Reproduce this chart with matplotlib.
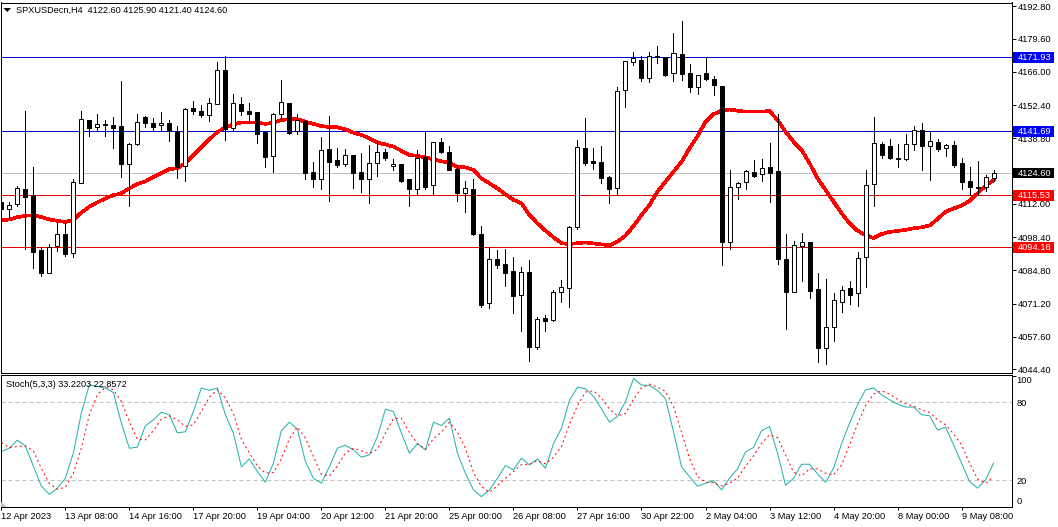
import numpy as np
import matplotlib
matplotlib.use('Agg')
import matplotlib.pyplot as plt
from matplotlib.patches import Polygon, Rectangle
from matplotlib.transforms import blended_transform_factory

plt.rcParams['font.family'] = ['Liberation Sans', 'DejaVu Sans']
plt.rcParams['font.size'] = 6.7

opens = [4112.9,4109.7,4111.8,4117.9,4115.5,4092.9,4083.8,4094.6,4099.5,4091.7,
         4120.4,4146.2,4143.6,4144.7,4144.2,4143.7,4128.4,4136.6,4147.5,4145.1,
         4144.1,4145.1,4141.6,4127.3,4151.2,4150.0,4148.2,4152.7,4166.6,4142.9,
         4152.8,4150.0,4149.6,4141.4,4131.4,4148.6,4153.2,4141.6,4145.9,4124.9,
         4122.0,4134.3,4129.8,4128.1,4131.8,4124.9,4122.0,4128.6,4133.1,4127.3,
         4128.3,4122.0,4117.9,4131.2,4119.6,4137.2,4133.1,4126.2,4116.5,4117.9,
         4099.6,4071.3,4089.3,4087.2,4084.4,4074.5,4084.0,4053.5,4065.1,4064.3,
         4075.8,4077.4,4102.6,4134.7,4129.4,4129.0,4123.0,4118.3,4158.4,4170.2,
         4170.7,4163.3,4172.5,4171.9,4165.4,4173.3,4165.4,4159.7,4165.4,4162.9,
         4160.2,4096.2,4119.0,4120.8,4124.9,4124.1,4126.9,4125.4,4089.3,4075.8,
         4094.9,4096.2,4077.0,4052.9,4061.7,4072.0,4077.4,4075.4,4090.1,4120.0,
         4136.5,4135.5,4130.7,4130.5,4136.3,4142.1,4135.5,4137.2,4134.7,4135.9,
         4128.6,4121.2,4118.7,4118.7,4122.6]
closes = [4109.7,4111.4,4118.3,4114.9,4092.4,4083.8,4094.2,4099.5,4091.6,4120.8,
          4146.6,4143.2,4144.5,4144.1,4143.2,4128.4,4136.3,4145.3,4145.2,4143.4,
          4144.9,4141.6,4127.1,4150.7,4150.1,4148.3,4153.1,4166.6,4142.7,4153.1,
          4150.1,4148.9,4140.7,4131.3,4148.6,4153.5,4141.1,4146.2,4124.8,4122.3,
          4133.9,4129.2,4128.0,4131.8,4124.8,4122.3,4128.6,4133.1,4130.9,4128.1,
          4121.3,4118.2,4130.6,4119.0,4137.2,4133.3,4126.0,4116.5,4118.3,4099.6,
          4070.7,4089.3,4087.1,4083.8,4074.4,4084.0,4053.5,4064.7,4064.2,4075.8,
          4077.8,4102.4,4135.1,4128.8,4128.8,4122.7,4118.2,4158.0,4170.3,4171.8,
          4163.6,4172.3,4172.1,4164.8,4173.6,4165.2,4159.9,4164.8,4162.9,4160.5,
          4096.5,4118.7,4120.4,4125.3,4123.5,4126.8,4124.8,4089.3,4076.0,4095.0,
          4096.2,4076.4,4052.9,4061.4,4072.5,4076.6,4074.8,4089.7,4119.6,4136.7,
          4132.1,4130.9,4130.5,4136.3,4142.1,4135.8,4137.6,4134.6,4135.9,4128.0,
          4121.1,4119.0,4118.3,4122.8,4124.6]
highs = [4114.9,4112.7,4119.3,4150.0,4127.1,4094.2,4095.6,4104.3,4104.0,4122.2,
         4150.0,4146.2,4148.7,4146.3,4147.5,4162.3,4136.7,4148.7,4148.1,4147.3,
         4149.6,4146.3,4143.8,4151.1,4154.1,4152.4,4155.3,4170.0,4172.5,4156.9,
         4155.7,4153.2,4149.6,4141.6,4149.0,4162.7,4153.2,4148.6,4146.3,4129.0,
         4139.3,4147.8,4134.7,4134.4,4131.8,4132.8,4136.1,4138.0,4134.4,4130.3,
         4128.3,4122.0,4134.0,4141.5,4137.2,4138.9,4135.6,4127.7,4121.3,4122.1,
         4102.9,4094.2,4093.2,4093.5,4090.2,4086.1,4088.9,4065.5,4066.5,4076.6,
         4080.8,4102.8,4138.1,4147.1,4134.8,4135.6,4123.4,4159.6,4170.3,4174.1,
         4172.5,4174.1,4176.6,4172.2,4181.9,4186.8,4169.2,4164.8,4172.2,4164.2,
         4160.2,4125.8,4120.8,4125.8,4129.9,4130.2,4136.9,4148.7,4099.6,4096.6,
         4099.9,4096.2,4083.6,4081.1,4075.4,4078.4,4080.4,4092.3,4125.8,4147.5,
         4137.3,4138.4,4136.5,4140.6,4143.8,4145.1,4141.6,4138.4,4136.3,4137.7,
         4130.6,4127.1,4129.5,4123.8,4125.9]
lows = [4108.1,4106.0,4111.2,4093.4,4085.9,4082.6,4083.5,4092.8,4090.8,4090.4,
        4120.4,4139.7,4141.8,4139.9,4135.0,4123.1,4111.2,4136.1,4143.6,4142.2,
        4141.8,4137.7,4122.7,4121.5,4148.7,4147.4,4146.0,4152.7,4138.2,4141.6,
        4148.3,4144.9,4137.0,4127.2,4125.1,4146.6,4140.4,4140.7,4122.3,4119.0,
        4118.2,4113.3,4127.2,4127.6,4118.6,4117.0,4112.5,4123.5,4130.1,4126.0,
        4121.1,4111.2,4116.2,4118.2,4116.2,4132.9,4125.7,4113.3,4108.8,4099.4,
        4069.9,4069.5,4085.9,4078.5,4067.4,4060.1,4047.8,4052.7,4060.1,4064.2,
        4072.0,4069.9,4101.8,4128.0,4126.4,4120.6,4112.5,4115.6,4151.8,4168.9,
        4162.4,4162.0,4169.7,4164.4,4162.4,4162.7,4157.9,4157.1,4162.7,4156.5,
        4087.0,4093.6,4114.0,4118.0,4123.1,4121.3,4112.9,4087.4,4060.9,4075.8,
        4080.4,4073.6,4047.4,4046.6,4056.0,4067.7,4071.0,4070.3,4078.1,4111.2,
        4130.9,4130.5,4127.2,4130.1,4134.2,4126.0,4121.9,4133.7,4131.7,4127.2,
        4118.2,4115.6,4115.6,4117.4,4121.4]

ma = [4105.2,4105.6,4106.5,4107.1,4107.3,4106.6,4105.6,4105.0,4104.6,4105.4,
      4108.4,4110.8,4112.6,4114.2,4115.5,4116.3,4118.3,4120.1,4121.2,4123.0,
      4124.6,4126.2,4126.5,4128.6,4132.0,4135.1,4138.4,4141.4,4143.2,4144.5,
      4145.3,4145.3,4145.2,4144.7,4145.2,4146.3,4146.6,4146.6,4145.6,4144.7,
      4143.8,4143.4,4143.3,4142.5,4141.1,4140.2,4138.8,4137.0,4136.3,4135.4,
      4133.7,4132.0,4131.6,4131.0,4130.2,4129.4,4128.7,4127.1,4126.9,4125.8,
      4122.4,4120.4,4118.3,4115.9,4113.6,4112.2,4107.4,4104.0,4101.0,4098.3,
      4095.9,4095.5,4095.9,4096.2,4095.8,4095.4,4095.0,4096.5,4099.0,4102.9,
      4107.4,4111.5,4117.0,4121.1,4125.1,4129.2,4134.7,4139.7,4145.6,4148.7,
      4150.1,4150.6,4150.1,4149.7,4149.7,4149.7,4150.0,4146.3,4141.5,4137.4,
      4134.0,4128.6,4122.4,4117.7,4112.9,4108.1,4104.0,4101.0,4099.2,4098.0,
      4099.6,4100.5,4100.9,4101.3,4102.0,4102.4,4103.1,4105.8,4108.7,4110.1,
      4111.2,4113.2,4116.3,4119.4,4121.7]

stoch_main = [42.0,44.6,50.8,46.4,31.0,15.6,9.2,13.9,21.5,40.8,
              71.5,93.3,92.0,90.8,87.4,63.9,44.6,45.4,61.8,66.4,
              72.3,70.3,56.4,57.2,72.8,90.8,89.0,90.8,70.3,56.2,
              30.3,36.4,26.7,18.5,33.1,58.0,64.6,59.2,34.4,21.5,
              17.7,30.5,44.6,46.9,43.3,37.7,39.5,53.6,74.6,72.8,
              56.2,40.8,48.0,43.3,64.6,62.0,67.7,40.8,25.4,12.6,
              7.4,12.6,21.5,31.3,28.0,36.9,31.8,36.4,29.2,48.0,
              60.0,81.3,91.5,90.3,84.4,74.9,64.6,69.0,80.5,98.2,
              93.1,92.8,89.0,82.6,57.4,30.5,22.8,15.4,17.7,19.7,
              12.6,21.5,28.7,41.8,45.1,58.0,61.3,40.8,16.2,21.5,
              32.3,32.3,24.9,18.5,29.2,48.0,63.9,78.0,89.5,90.8,
              85.6,81.8,78.5,76.2,76.2,70.3,69.5,58.5,60.8,47.2,
              33.1,19.0,13.9,20.3,33.22]
stoch_signal = [49.0,45.1,45.9,46.4,42.6,29.2,17.7,13.1,14.6,25.4,
                44.6,70.3,85.6,91.5,89.5,80.5,65.1,51.5,51.0,58.0,
                66.9,69.5,66.4,61.3,62.6,72.8,83.8,89.5,83.1,71.5,
                51.5,40.8,31.0,25.4,25.9,36.4,51.8,60.8,52.3,38.2,
                24.6,23.3,31.0,40.8,44.6,42.6,40.3,43.9,56.2,67.2,
                67.7,56.7,48.0,43.9,51.8,56.9,64.6,56.9,44.6,26.2,
                15.1,10.8,15.9,21.5,26.7,32.0,32.3,35.1,32.6,37.7,
                45.9,63.1,77.4,87.7,88.7,83.1,74.6,69.5,71.3,82.3,
                90.8,93.8,91.5,88.2,76.7,56.9,36.9,22.8,18.5,18.2,
                15.6,17.7,21.5,30.8,38.7,48.2,54.9,52.8,39.5,26.2,
                23.3,28.7,28.7,25.4,24.1,31.8,47.2,63.3,77.2,86.2,
                88.7,86.2,82.1,78.7,76.9,74.1,72.0,66.4,62.6,55.6,
                47.2,33.1,20.8,17.7,22.86]

price_ticks = [4192.80,4179.60,4166.00,4152.40,4138.80,4112.00,4098.40,4084.80,4071.20,4057.60,4044.40]
blue_levels = [4171.93,4141.69]
red_levels = [4115.53,4094.18]
last_price = 4124.60
stoch_ticks = [100,80,20,0]
stoch_levels = [80,20]
date_labels = ['12 Apr 2023','13 Apr 08:00','14 Apr 16:00','17 Apr 20:00','19 Apr 04:00','20 Apr 12:00',
               '21 Apr 20:00','25 Apr 00:00','26 Apr 08:00','27 Apr 16:00','30 Apr 22:00','2 May 04:00',
               '3 May 12:00','4 May 20:00','8 May 00:00','9 May 08:00']
date_pos = np.arange(len(date_labels))*8

W, H = 1058, 527
PX = 0.72   # one screen pixel in points at dpi 100

def axes_px(left, top, right, bottom):
    return [left/W, 1-bottom/H, (right-left)/W, (bottom-top)/H]

opens = np.array(opens); closes = np.array(closes)
highs = np.array(highs); lows = np.array(lows)
x = np.arange(len(opens))
up = closes >= opens

fig = plt.figure(figsize=(W/100, H/100), dpi=100, facecolor='white')
ax = fig.add_axes(axes_px(0.5, 2.5, 1012, 372.5))
ax2 = fig.add_axes(axes_px(0.5, 374.5, 1012, 506.7))

# levels, ma, then candles on top
for lv in blue_levels:
    ax.axhline(lv, color='#0000cd', lw=PX, antialiased=False, zorder=1)
for lv in red_levels:
    ax.axhline(lv, color='#e60000', lw=PX, antialiased=False, zorder=1)
ax.axhline(last_price, color='#c0c0c0', lw=PX, antialiased=False, zorder=1)
ax.plot(x, ma, color='#ff0000', lw=2.6*PX, antialiased=False, zorder=2, solid_joinstyle='round')
ax.vlines(x, lows, highs, color='black', lw=PX, antialiased=False, zorder=3)
body_low = np.minimum(opens, closes)
body_h = np.abs(closes-opens)
ax.bar(x[up], body_h[up], 0.5, bottom=body_low[up], facecolor='white', edgecolor='black', lw=PX, zorder=4)
ax.bar(x[~up], body_h[~up], 0.5, bottom=body_low[~up], facecolor='black', edgecolor='black', lw=PX, zorder=4)

ax.set_xlim(-0.1, 126.3)
ax.set_ylim(4042.97, 4194.37)
ax.set_xticks([])
ax.yaxis.tick_right()
ax.set_yticks(price_ticks)
ax.set_yticklabels(['%.2f' % p for p in price_ticks])
ax.tick_params(axis='y', length=4*PX, width=PX, pad=1.5, labelsize=6.7)

# price tags in the right margin
tag_trans = blended_transform_factory(ax.transAxes, ax.transData)
def tag(lv, color):
    ax.add_patch(Rectangle((1.001, lv-2.2), 0.0405, 4.4, transform=tag_trans, facecolor=color,
                           edgecolor='none', clip_on=False, zorder=9))
    ax.text(1.0055, lv, '%.2f' % lv, transform=tag_trans, va='center', ha='left', color='white',
            fontsize=6.7, zorder=10, clip_on=False)
for lv in blue_levels:
    tag(lv, '#0000ff')
for lv in red_levels:
    tag(lv, '#ff0000')
tag(last_price, '#000000')

fig.text(16/W, 1-10.5/H, 'SPXUSDecn,H4  4122.60 4125.90 4121.40 4124.60', fontsize=6.6, va='center', ha='left')
fig.add_artist(Polygon([[3.5/W, 1-8/H], [11/W, 1-8/H], [7.2/W, 1-12/H]], closed=True, facecolor='black', edgecolor='none'))

# stochastic panel
for lv in stoch_levels:
    ax2.axhline(lv, color='#c0c0c0', lw=PX, ls=(0, (4, 3)), zorder=1)
ax2.plot(x, stoch_main, color='#20b2aa', lw=PX, zorder=2)
ax2.plot(x, stoch_signal, color='#ff0000', lw=PX, ls=(0, (2, 3)), zorder=3)
ax2.set_xlim(-0.1, 126.3)
ax2.set_ylim(-0.3, 101.2)
ax2.yaxis.tick_right()
ax2.set_yticks(stoch_ticks)
ax2.set_yticklabels([str(t) for t in stoch_ticks])
ax2.tick_params(axis='y', length=0, pad=3, labelsize=6.7)
labs = ax2.get_yticklabels()
labs[0].set_va('top')
labs[-1].set_va('bottom')
top_tick = ax2.yaxis.get_major_ticks()[0].tick2line
top_tick.set_markersize(4*PX)
top_tick.set_markeredgewidth(PX)
ax2.set_xticks(date_pos)
ax2.set_xticklabels(date_labels, ha='left')
ax2.tick_params(axis='x', length=3*PX, width=PX, pad=1.7, labelsize=6.7)
ax2.text(5/1011.5, 0.925, 'Stoch(5,3,3) 33.2203 22.8572', transform=ax2.transAxes, fontsize=6.6, va='center', ha='left')
fig.add_artist(Polygon([[1/W, 1-501.5/H], [1/W, 1-506.5/H], [7/W, 1-506.5/H]], closed=True, facecolor='#c0c0c0', edgecolor='none'))

# the bottom price label gets cut by the lower panel
fig.add_artist(Rectangle((1013/W, 1-374.8/H), 45/W, 1.8/H, facecolor='white', edgecolor='none'))

for a in (ax, ax2):
    for s in a.spines.values():
        s.set_linewidth(PX)
        s.set_antialiased(False)

fig.savefig('out.png', dpi=100)
